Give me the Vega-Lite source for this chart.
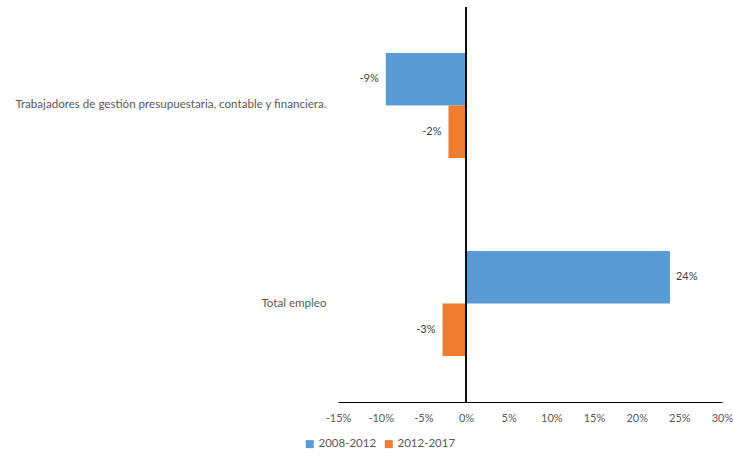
{
  "$schema": "https://vega.github.io/schema/vega-lite/v6.json",
  "autosize": {"type": "none"},
  "width": 384,
  "height": 395,
  "padding": {"left": 338, "top": 7, "right": 11, "bottom": 53},
  "background": "white",
  "config": {
    "view": {"stroke": null},
    "font": "Lato",
    "axis": {"labelFont": "Lato", "labelColor": "#595959", "grid": false, "ticks": false},
    "legend": {"labelFont": "Lato", "labelColor": "#595959"}
  },
  "data": {
    "values": [
      {"categoria": "Trabajadores de gestión presupuestaria, contable y financiera.", "periodo": "2008-2012", "valor": -0.094},
      {"categoria": "Trabajadores de gestión presupuestaria, contable y financiera.", "periodo": "2012-2017", "valor": -0.0205},
      {"categoria": "Total empleo", "periodo": "2008-2012", "valor": 0.239},
      {"categoria": "Total empleo", "periodo": "2012-2017", "valor": -0.0275}
    ]
  },
  "encoding": {
    "y": {
      "field": "categoria",
      "type": "nominal",
      "sort": ["Trabajadores de gestión presupuestaria, contable y financiera.", "Total empleo"],
      "title": null,
      "scale": {"paddingInner": 0.47, "paddingOuter": 0.232},
      "axis": {"domain": false, "labelPadding": 12, "labelFontSize": 11.6, "labelLimit": 400}
    },
    "yOffset": {"field": "periodo", "type": "nominal", "sort": ["2008-2012", "2012-2017"]},
    "x": {
      "field": "valor",
      "type": "quantitative",
      "title": null,
      "scale": {"domain": [-0.15, 0.3], "nice": false, "zero": false},
      "axis": {
        "format": ".0%",
        "labelExpr": "replace(datum.label, '−', '-')",
        "values": [-0.15, -0.1, -0.05, 0, 0.05, 0.1, 0.15, 0.2, 0.25, 0.3],
        "labelFlush": false,
        "labelOverlap": false,
        "domainColor": "#000000",
        "domainWidth": 1,
        "labelPadding": 10,
        "labelFontSize": 11
      }
    }
  },
  "layer": [
    {
      "mark": {"type": "bar"},
      "encoding": {
        "color": {
          "field": "periodo",
          "type": "nominal",
          "sort": ["2008-2012", "2012-2017"],
          "scale": {"range": ["#5B9BD5", "#ED7D31"]},
          "legend": {"title": null, "orient": "none", "direction": "horizontal", "legendX": -34, "legendY": 431, "symbolType": "square", "symbolSize": 64, "labelFontSize": 11.5, "columnPadding": 6, "labelOffset": 3, "symbolStrokeWidth": 0}
        }
      }
    },
    {
      "transform": [{"filter": "datum.valor < 0"}],
      "mark": {"type": "text", "align": "right", "dx": -7, "fontSize": 11, "color": "#404040", "text": {"expr": "replace(format(datum.valor, '.0%'), '−', '-')"}}
    },
    {
      "transform": [{"filter": "datum.valor >= 0"}],
      "mark": {"type": "text", "align": "left", "dx": 6, "fontSize": 11, "color": "#404040", "text": {"expr": "replace(format(datum.valor, '.0%'), '−', '-')"}}
    },
    {
      "mark": {"type": "rule", "color": "#000000", "strokeWidth": 1},
      "encoding": {"x": {"datum": 0}, "y": null, "yOffset": null}
    }
  ]
}
